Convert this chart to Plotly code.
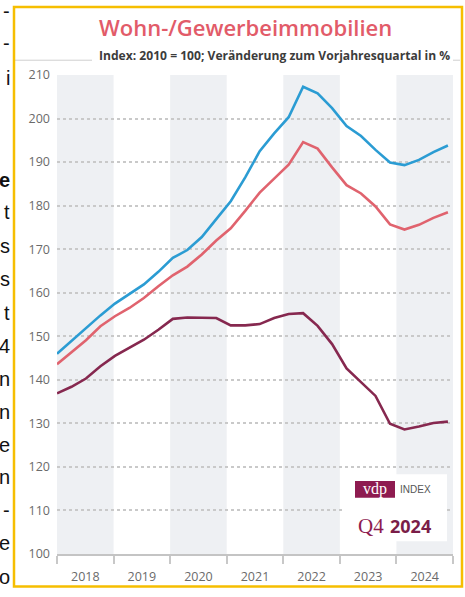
import plotly.graph_objects as go

# ---------------- data ----------------
quarters = [f"{y} Q{q}" for y in range(2018, 2025) for q in range(1, 5)]
wohnen = [146.0, 149.0, 151.9, 154.8, 157.5, 159.7, 161.9, 164.8,
          168.0, 169.8, 172.8, 176.9, 181.0, 186.5, 192.5, 196.6,
          200.3, 207.3, 205.8, 202.4, 198.3, 196.0, 192.8, 189.9,
          189.3, 190.5, 192.3, 193.8]
gesamt = [143.6, 146.3, 149.1, 152.3, 154.6, 156.5, 158.8, 161.5,
          164.0, 166.0, 168.8, 172.0, 174.8, 178.8, 183.0, 186.2,
          189.4, 194.6, 193.1, 188.8, 184.7, 182.8, 179.8, 175.7,
          174.5, 175.6, 177.2, 178.5]
gewerbe = [136.9, 138.4, 140.3, 143.1, 145.5, 147.4, 149.2, 151.5,
           154.0, 154.3, 154.3, 154.2, 152.5, 152.5, 152.8, 154.2,
           155.1, 155.3, 152.4, 148.2, 142.6, 139.4, 136.3, 129.9,
           128.6, 129.3, 130.1, 130.4]
years = [2018, 2019, 2020, 2021, 2022, 2023, 2024]
y_ticks = list(range(100, 211, 10))

title_text = "Wohn-/Gewerbeimmobilien"
subtitle_text = "Index: 2010 = 100; Veränderung zum Vorjahresquartal in %"
side_letters = ["-", "-", "i", "<b>e</b>", "t", "s", "s", "t", "4", "n", "n", "e", "n", "-", "e", "o"]
side_letters_y = [10, 43, 78, 182, 214, 248, 282, 316, 350, 383, 417, 450, 483, 516, 550, 584]

# ---------------- layout geometry ----------------
W, H = 465, 597
L, R, T, B = 57, 12, 75, 36
PW, PH = W - L - R, H - T - B

def px(x):
    return (x - L) / PW

def py(y):
    return (H - B - y) / PH

# x position of each quarter (spread across the year bands)
step = 6.91 / (len(quarters) - 1)
xpos = [2018 + i * step for i in range(len(quarters))]

BLUE = "#2B9CD3"
RED = "#E0636E"
PURPLE = "#86284F"
WINE = "#8E1B50"

fig = go.Figure()
for name, vals, col in [("Gewerbe", gewerbe, PURPLE), ("Gesamt", gesamt, RED), ("Wohnen", wohnen, BLUE)]:
    fig.add_trace(go.Scatter(x=xpos, y=vals, mode="lines", name=name,
                             line=dict(color=col, width=2.6), text=quarters,
                             hovertemplate="%{text}: %{y}<extra>" + name + "</extra>"))

shapes = []
# alternating year bands
for i, yr in enumerate(years):
    if i % 2 == 0:
        shapes.append(dict(type="rect", xref="x", yref="y", x0=yr, x1=yr + 1, y0=100, y1=210,
                           fillcolor="#EEF0F3", line=dict(width=0), layer="below"))
# white box behind logo
shapes.append(dict(type="rect", xref="paper", yref="paper", x0=px(343), x1=px(447),
                   y0=py(548), y1=py(480), fillcolor="white", line=dict(width=0), layer="above"))
# vdp logo box
shapes.append(dict(type="rect", xref="paper", yref="paper", x0=px(355), x1=px(395),
                   y0=py(504), y1=py(487), fillcolor=WINE, line=dict(width=0), layer="above"))
# thin grey lines beside subtitle
shapes.append(dict(type="line", xref="paper", yref="paper", x0=px(15), x1=px(92),
                   y0=py(60), y1=py(60), line=dict(color="#cfcfcf", width=1)))
shapes.append(dict(type="line", xref="paper", yref="paper", x0=px(453), x1=px(460),
                   y0=py(60), y1=py(60), line=dict(color="#cfcfcf", width=1)))
# yellow frame
shapes.append(dict(type="rect", xref="paper", yref="paper", x0=px(14), x1=px(462),
                   y0=py(594), y1=py(6), line=dict(color="#F6BE00", width=2.5),
                   fillcolor="rgba(0,0,0,0)"))

annotations = [
    dict(text=title_text, xref="paper", yref="paper", x=px(245), y=py(26),
         xanchor="center", yanchor="middle", showarrow=False,
         font=dict(family="Open Sans", size=22, color="#E25B69", weight=600)),
    dict(text="<b>" + subtitle_text + "</b>", xref="paper", yref="paper", x=px(274), y=py(55),
         xanchor="center", yanchor="middle", showarrow=False,
         font=dict(family="Open Sans", size=12.1, color="#3c3c3c")),
    dict(text="vdp", xref="paper", yref="paper", x=px(375), y=py(495),
         xanchor="center", yanchor="middle", showarrow=False,
         font=dict(family="Liberation Serif", size=16, color="white")),
    dict(text="INDEX", xref="paper", yref="paper", x=px(398), y=py(496),
         xanchor="left", yanchor="middle", showarrow=False,
         font=dict(family="Liberation Sans Narrow, Liberation Sans", size=10, color="#555555")),
    dict(text="Q4", xref="paper", yref="paper", x=px(386), y=py(533),
         xanchor="right", yanchor="middle", showarrow=False,
         font=dict(family="Liberation Serif", size=21, color=WINE)),
    dict(text="<b>2024</b>", xref="paper", yref="paper", x=px(388), y=py(533),
         xanchor="left", yanchor="middle", showarrow=False,
         font=dict(family="Open Sans", size=18, color="#7A1D48")),
]
for t, yy in zip(side_letters, side_letters_y):
    annotations.append(dict(text=t, xref="paper", yref="paper", x=px(12), y=py(yy),
                            xanchor="right", yanchor="middle", showarrow=False,
                            font=dict(family="Liberation Sans", size=20, color="#111111")))

fig.update_layout(
    width=W, height=H, autosize=False,
    margin=dict(l=L, r=R, t=T, b=B, pad=0),
    paper_bgcolor="white", plot_bgcolor="white",
    showlegend=False,
    shapes=shapes, annotations=annotations,
    xaxis=dict(range=[2018, 2025], tickvals=[y + 0.5 for y in years],
               ticktext=[str(y) for y in years], ticks="", showgrid=False,
               zeroline=False, showline=True, linecolor="#c4c4c4", linewidth=2,
               tickfont=dict(family="Open Sans", size=12.5, color="#6a6a6a"),
               ticklabelstandoff=10,
               minor=dict(tickvals=list(range(2018, 2026)), ticks="outside", ticklen=8,
                          tickcolor="#c8c8c8", tickwidth=1.5, showgrid=False)),
    yaxis=dict(range=[100, 210], tickvals=y_ticks, ticks="", showgrid=True,
               gridcolor="#c9c9c9", griddash="dot", gridwidth=1.5, zeroline=False,
               tickfont=dict(family="Open Sans", size=12.5, color="#6a6a6a"),
               ticklabelstandoff=6),
)

fig.write_html("out.html")
